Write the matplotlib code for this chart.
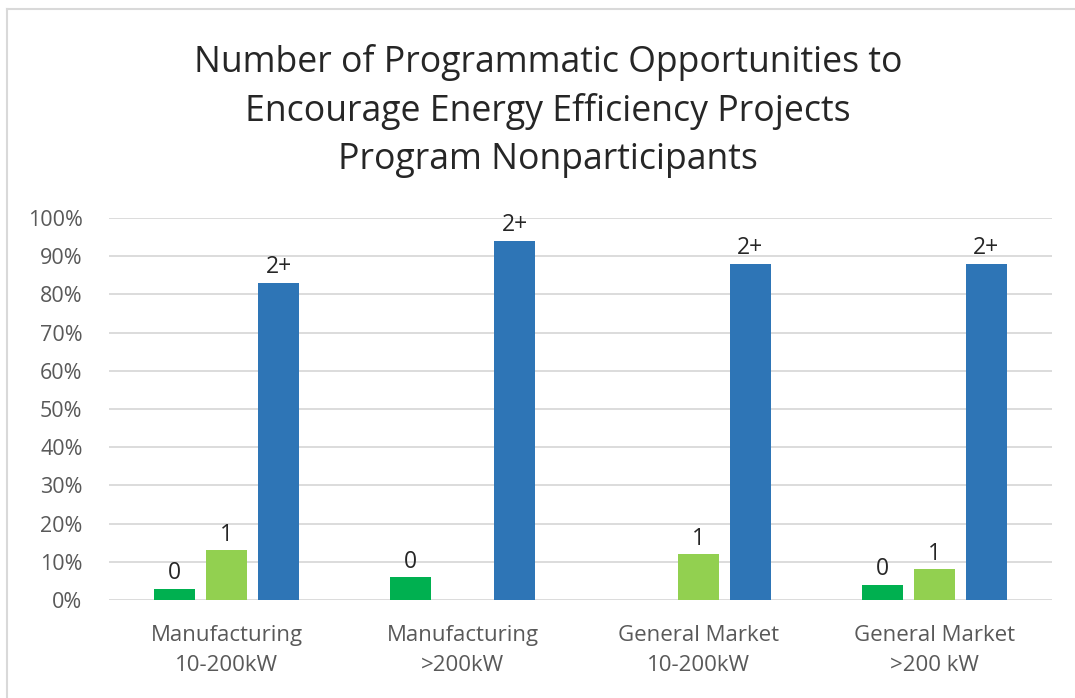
import numpy as np
import matplotlib
matplotlib.use('Agg')
import matplotlib.pyplot as plt
from matplotlib.lines import Line2D

plt.rcParams['font.family'] = ['Open Sans', 'DejaVu Sans']

categories = ['Manufacturing\n10-200kW', 'Manufacturing\n>200kW',
              'General Market\n10-200kW', 'General Market\n>200 kW']
series_names = ['0', '1', '2+']
vals_0 = [0.03, 0.06, 0.0, 0.04]
vals_1 = [0.13, 0.0, 0.12, 0.08]
vals_2p = [0.83, 0.94, 0.88, 0.88]
colors = ['#00B050', '#92D050', '#2E75B6']
title = ('Number of Programmatic Opportunities to\n'
         'Encourage Energy Efficiency Projects\n'
         'Program Nonparticipants')

fig = plt.figure(figsize=(10.75, 6.98), dpi=100)
ax = fig.add_axes([0.1014, 0.1404, 0.8772, 0.5473])

x = np.arange(len(categories))
width = 0.174
step = 0.2206
for i, (name, vals, c) in enumerate(zip(series_names, [vals_0, vals_1, vals_2p], colors)):
    pos = x + (i - 1) * step
    ax.bar(pos, vals, width=width, color=c, zorder=3)
    for px, v in zip(pos, vals):
        if v > 0:
            ax.annotate(name, (px, v), xytext=(0, 2.5), textcoords='offset points',
                        ha='center', va='bottom', fontsize=16.5, color='#262626')

ax.set_xlim(-0.5, 3.5)
ax.set_ylim(0, 1.0)
ax.set_yticks(np.arange(0, 1.01, 0.1))
ax.set_yticklabels([f'{int(round(t * 100))}%' for t in np.arange(0, 1.01, 0.1)])
ax.set_xticks(x)
ax.set_xticklabels(categories, linespacing=1.55)
ax.tick_params(axis='y', length=0, pad=19, labelsize=15.5, labelcolor='#595959')
ax.tick_params(axis='x', length=0, pad=18, labelsize=16, labelcolor='#595959')
ax.grid(axis='y', color='#D9D9D9', linewidth=1.3, zorder=0)
for s in ax.spines.values():
    s.set_visible(False)

fig.text(0.51, 0.937, title, ha='center', va='top', fontsize=25.7,
         color='#262626', linespacing=1.44)

# chart border (left and top edges visible)
fig.add_artist(Line2D([7 / 1075, 7 / 1075], [0, 1 - 9 / 698], transform=fig.transFigure,
                      color='#D9D9D9', linewidth=1.5))
fig.add_artist(Line2D([7 / 1075, 1], [1 - 9 / 698, 1 - 9 / 698], transform=fig.transFigure,
                      color='#D9D9D9', linewidth=1.5))

fig.savefig('out.png', dpi=100)
